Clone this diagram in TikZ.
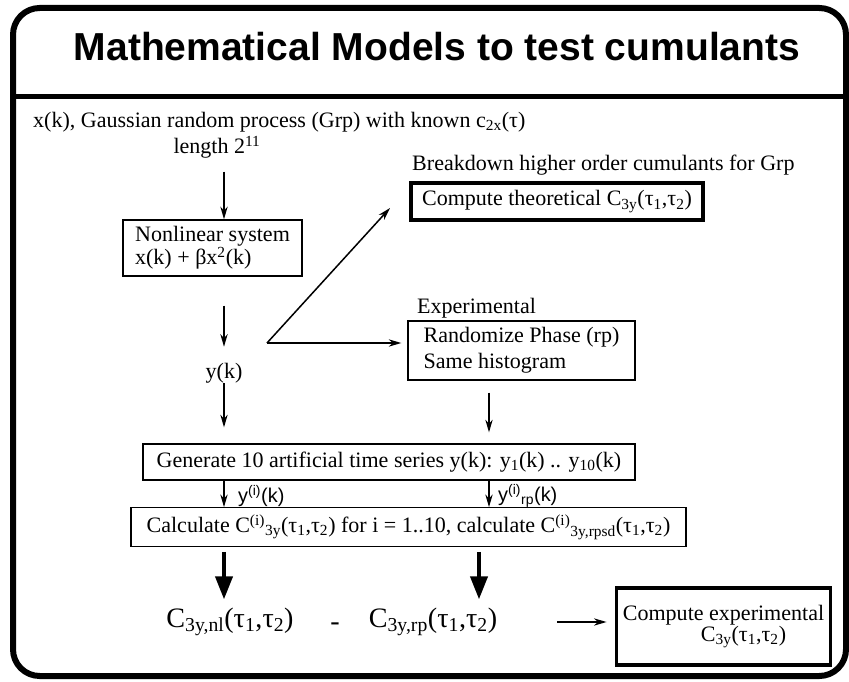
\documentclass[tikz,border=0pt]{standalone}
\usepackage{fontspec}
\setmainfont{Liberation Serif}
\setsansfont{Liberation Sans}
\usetikzlibrary{arrows.meta,positioning,calc}
\newcommand{\subx}[1]{\textsubscript{#1}}
\newcommand{\supx}[1]{\textsuperscript{#1}}
\tikzset{
  plaintext/.style={inner sep=0pt, font=\fontsize{18.8}{19}\selectfont},
  thinbox/.style={draw, line width=0.4mm, inner sep=2mm, align=left,
                  font=\fontsize{18.8}{19.5}\selectfont},
  heavybox/.style={thinbox, line width=1.1mm},
  labeltext/.style={inner sep=0pt, font=\sffamily\fontsize{17}{17}\selectfont},
  bigtext/.style={inner sep=0pt, font=\fontsize{24}{24}\selectfont},
  arr/.style={-{Stealth[length=3.8mm, width=2.2mm]}, line width=0.45mm},
  bigarr/.style={-{Triangle[length=6.9mm, width=5.1mm]}, line width=1.2mm}}
\begin{document}
\begin{tikzpicture}[x=0.3mm, y=-0.3mm]
    \useasboundingbox (0,0) rectangle (849,682);
    % frame and title bar
    \draw[line width=1.8mm, rounded corners=8mm] (13,8) rectangle (846,676);
    \draw[line width=1.5mm] (13,97) -- (846,97);
    \node[font=\sffamily\bfseries\fontsize{33.3}{34}\selectfont, inner sep=0pt] (title) at (437,47)
      {Mathematical Models to test cumulants};
    % left column
    \node[plaintext, anchor=west] (gauss) at (33,122)
      {x(k), Gaussian random process (Grp) with known c\subx{2x}(τ)};
    \node[plaintext] (len) at (217,147) {length 2\supx{11}};
    \node[thinbox, minimum width=53.7mm, minimum height=13.8mm] (nl) at (212.5,248)
      {Nonlinear system\\x(k) + βx\supx{2}(k)};
    \node[plaintext] (yk) at (224,373) {y(k)};
    % right column
    \node[plaintext, anchor=west] (brk) at (412,165) {Breakdown higher order cumulants for Grp};
    \node[heavybox, minimum width=87.6mm, minimum height=11.1mm] (theo) at (557,201.5)
      {Compute theoretical C\subx{3y}(τ\subx{1},τ\subx{2})};
    \node[plaintext, anchor=west] (expt) at (417,308) {Experimental};
    \node[thinbox, minimum width=68.1mm, minimum height=16.5mm,
          font=\fontsize{18.8}{22}\selectfont] (rp) at (521.5,350.5)
      {Randomize Phase (rp)\\Same histogram};
    % series and cumulants
    \node[thinbox, minimum width=147.6mm, minimum height=10.8mm] (gen) at (389,462)
      {Generate 10 artificial time series y(k): y\subx{1}(k) .. y\subx{10}(k)};
    \node[labeltext, anchor=west] (yi) at (238,496) {y\supx{(i)}(k)};
    \node[labeltext, anchor=west] (yirp) at (498,496) {y\supx{(i)}\subx{rp}(k)};
    \node[thinbox, minimum width=166.5mm, minimum height=10.8mm] (calc) at (408.5,527)
      {Calculate C\supx{(i)}\subx{3y}(τ\subx{1},τ\subx{2}) for i = 1..10, calculate C\supx{(i)}\subx{3y,rpsd}(τ\subx{1},τ\subx{2})};
    \node[bigtext] (cnl) at (230,622) {C\subx{3y,nl}(τ\subx{1},τ\subx{2})};
    \node[bigtext] (minus) at (335,627) {-};
    \node[bigtext] (crp) at (433,622) {C\subx{3y,rp}(τ\subx{1},τ\subx{2})};
    \node[heavybox, line width=1mm, align=center, minimum width=62.1mm, minimum height=23.1mm,
          font=\fontsize{18.8}{18.5}\selectfont] (exp) at (723.5,626.5)
      {Compute experimental\\\hspace*{12mm}C\subx{3y}(τ\subx{1},τ\subx{2})};
    \coordinate (fork) at (267,343);
    \coordinate (theotip) at (390,208);
    \coordinate (colR) at (489,390);
    % connectors
    \draw[arr, shorten <=4mm] (len.south -| yk) -- (nl.north -| yk);
    \draw[arr, shorten <=8.7mm, shorten >=4.8mm] (nl.south -| yk) -- (yk.north);
    \draw[arr] (fork) -- (theotip);
    \draw[arr, shorten >=1.8mm] (fork) -- (fork -| rp.west);
    \draw[arr, shorten >=4.8mm] (yk.south) -- (yk.south |- gen.north);
    \draw[arr, shorten <=3.6mm, shorten >=3.3mm] (rp.south -| colR) -- (colR |- gen.north);
    \draw[arr] (gen.south -| yk) -- (calc.north -| yk);
    \draw[arr] (gen.south -| colR) -- (calc.north -| colR);
    \draw[bigarr, shorten <=1.5mm, shorten >=2.5mm] (calc.south -| yk) -- (cnl.north -| yk);
    \draw[bigarr, shorten <=1.5mm, shorten >=2.5mm] ([xshift=-3mm]calc.south -| colR) -- ([xshift=-3mm]crp.north -| colR);
    \draw[arr, shorten <=18mm, shorten >=2.4mm] (crp.east) -- (crp.east -| exp.west);
  \end{tikzpicture}
\end{document}
